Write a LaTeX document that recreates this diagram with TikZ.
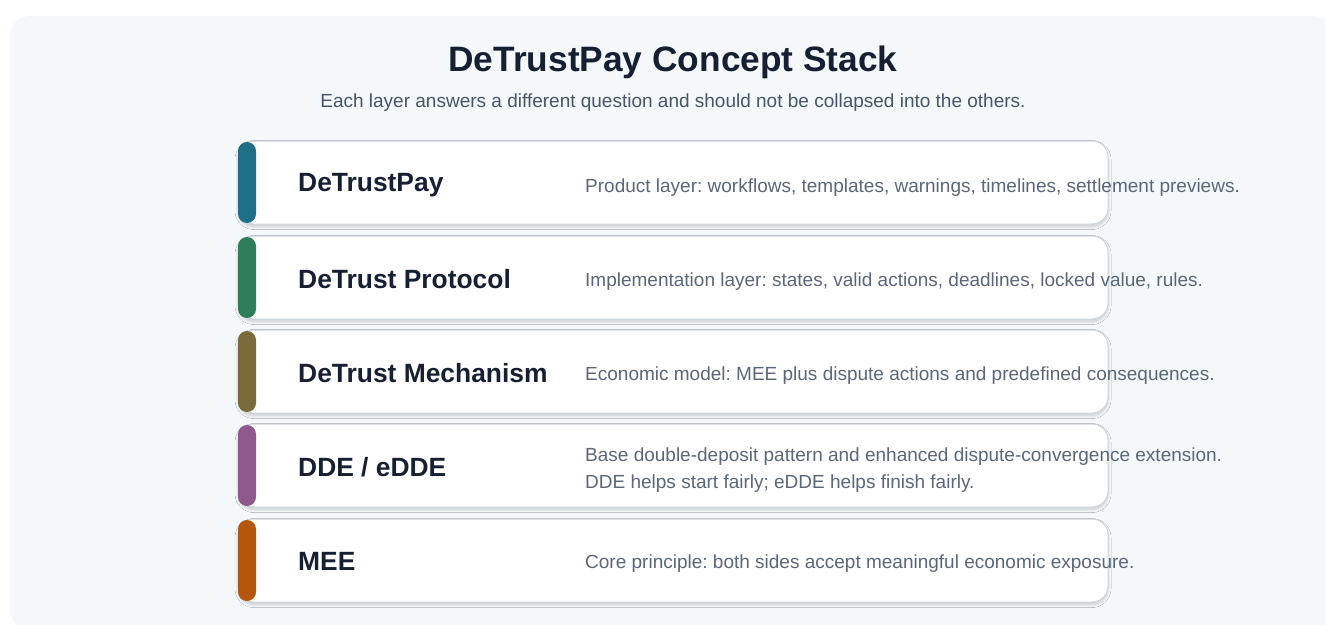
\documentclass[tikz,border=0pt]{standalone}
\usepackage{fontspec}
\setmainfont{Liberation Sans}
\usetikzlibrary{shadows.blur}
\frenchspacing
\definecolor{bgc}{HTML}{F4F8FB}
\definecolor{titlec}{HTML}{172033}
\definecolor{subc}{HTML}{475569}
\definecolor{descc}{HTML}{5B6778}
\definecolor{cardline}{HTML}{CDD5DF}
\definecolor{cA}{HTML}{1F6F86}
\definecolor{cB}{HTML}{2E7D5B}
\definecolor{cC}{HTML}{7B6B3B}
\definecolor{cD}{HTML}{8E5A8E}
\definecolor{cE}{HTML}{B5560D}
\tikzset{
  card/.style={draw=cardline, line width=1pt, fill=white, rounded corners=16pt,
    minimum width=870pt, minimum height=83pt, inner sep=0pt,
    blur shadow={shadow xshift=0pt, shadow yshift=-2.5pt, shadow blur steps=8, shadow opacity=18, shadow blur radius=3pt}},
  bar/.style={fill=#1, draw=none, rounded corners=9pt, minimum width=18pt, minimum height=81pt, inner sep=0pt},
  ctitle/.style={font=\fontsize{26.4}{30}\selectfont\bfseries, text=titlec, anchor=west, inner sep=0pt},
  cdesc/.style={font=\fontsize{19}{26.5}\selectfont, text=descc, anchor=west, inner sep=0pt, align=left},
}
\begin{document}
\begin{tikzpicture}[x=1pt,y=-1pt]
\useasboundingbox (0,0) rectangle (1325,624);
\begin{scope}
\clip (0,0) rectangle (1325,624);
\fill[bgc, rounded corners=20pt] (10,16) rectangle (1333,630);
\end{scope}
\node[font=\fontsize{35.3}{40}\selectfont\bfseries, text=titlec] (title) at (673,62) {DeTrustPay Concept Stack};
\node[font=\fontsize{19}{22}\selectfont, text=subc] (subtitle) at (673,103) {Each layer answers a different question and should not be collapsed into the others.};
% cards
\foreach \n/\y/\c in {a/182.5/cA, b/277.5/cB, c/371.5/cC, d/465.5/cD, e/560.5/cE}{
  \node[card] (card\n) at (673,\y) {};
  \node[bar=\c] (bar\n) at (247,\y) {};
}
\node[ctitle] (ta) at (298,185) {DeTrustPay};
\node[ctitle] (tb) at (298,279) {DeTrust Protocol};
\node[ctitle] (tc) at (298,373) {DeTrust Mechanism};
\node[ctitle] (td) at (298,467) {DDE / eDDE};
\node[ctitle] (te) at (298,561) {MEE};
\node[cdesc] (da) at (585,188) {Product layer: workflows, templates, warnings, timelines, settlement previews.};
\node[cdesc] (db) at (585,282) {Implementation layer: states, valid actions, deadlines, locked value, rules.};
\node[cdesc] (dc) at (585,376) {Economic model: MEE plus dispute actions and predefined consequences.};
\node[cdesc] (dd) at (585,470) {Base double-deposit pattern and enhanced dispute-convergence extension.\\DDE helps start fairly; eDDE helps finish fairly.};
\node[cdesc] (de) at (585,564) {Core principle: both sides accept meaningful economic exposure.};
\end{tikzpicture}
\end{document}
